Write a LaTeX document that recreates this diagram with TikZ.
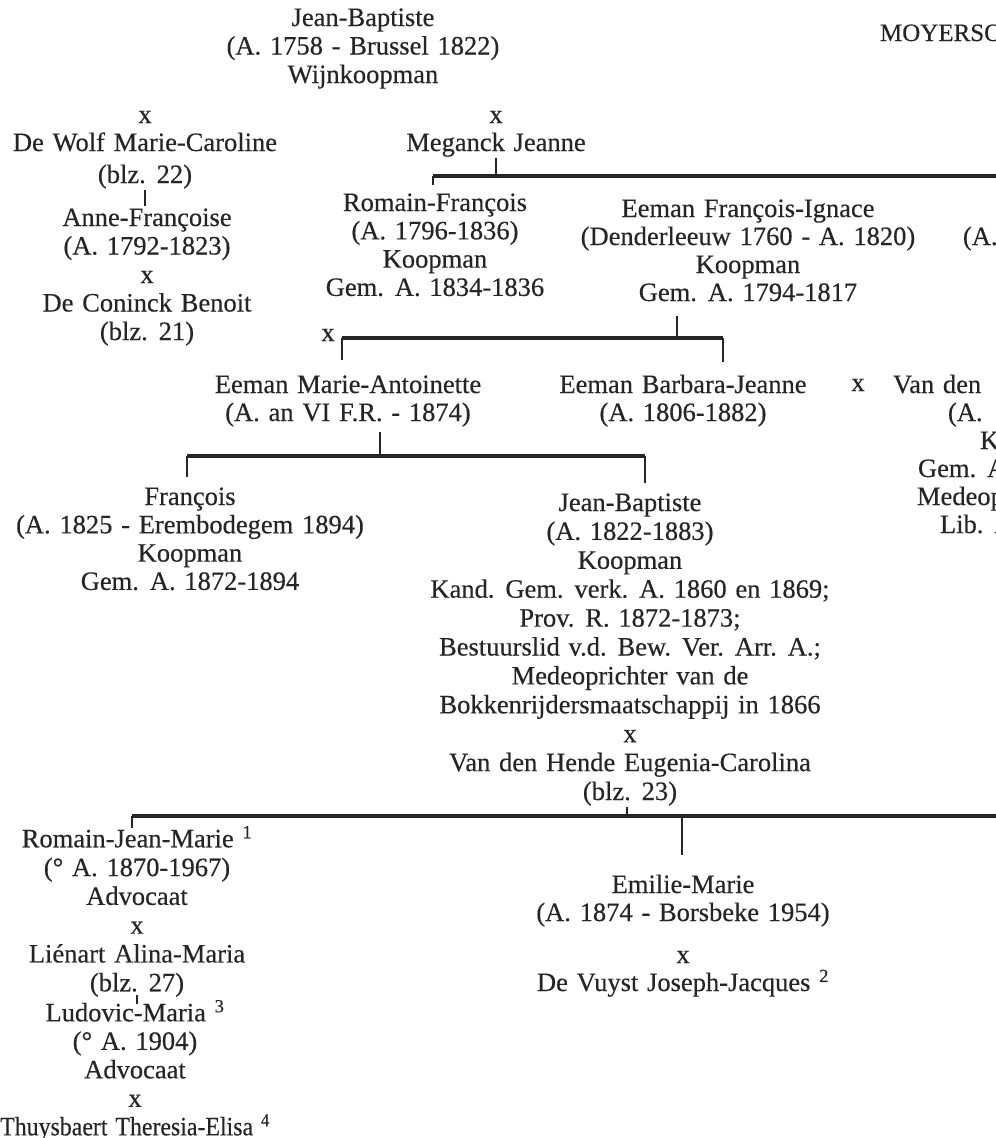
\documentclass[tikz,border=0pt]{standalone}
\usepackage{fontspec}
\usepackage{graphicx}
\setmainfont{Liberation Serif}[FakeBold=0.35]
\definecolor{ink}{HTML}{252525}
\newcommand\fs{\rule{0pt}{20pt}}
\newcommand\ls{\rule[-7pt]{0pt}{7pt}}
\newcommand\pf[1]{\fontsize{26.5}{#1}\selectfont\spaceskip=0.33em plus 0.1em minus 0.05em\relax}
\tikzset{
 person/.style={align=center, inner sep=0pt, outer sep=0pt, anchor=north, text=ink, font=\pf{28.5}},
 cut/.style={person, anchor=north west},
 bar/.style={draw=ink, line width=3.2pt},
 tick/.style={draw=ink, line width=2.2pt},
}
\begin{document}
\begin{tikzpicture}[x=1pt,y=-1pt]
\useasboundingbox (0,0) rectangle (996,1138);
\fill[white] (0,0) rectangle (996,1138);
\clip (0,0) rectangle (996,1138);

% top
\node[person] (jb) at (363,6) {\fs Jean-Baptiste\\(A. 1758 - Brussel 1822)\\Wijnkoopman\ls};
\node[cut, font=\fontsize{25}{28}\selectfont] (moy) at (880,21) {\fs MOYERSO};

% left column
\node[person] (x1) at (145,103) {\fs x};
\node[person] (dewolf) at (145,131) {\fs De Wolf Marie-Caroline\\[3.5pt](blz. 22)\ls};
\node[person] (annef) at (147,206) {\fs Anne-Françoise\\(A. 1792-1823)\\x\\De Coninck Benoit\\(blz. 21)\ls};

% Meganck branch
\node[person] (x2) at (496,103) {\fs x};
\node[person] (meganck) at (496,131) {\fs Meganck Jeanne\ls};
\node[person, font=\pf{28.3}] (romain) at (435,191) {\fs Romain-François\\(A. 1796-1836)\\Koopman\\Gem. A. 1834-1836\ls};
\node[person, font=\pf{28}] (eemanfi) at (748,197) {\fs Eeman François-Ignace\\(Denderleeuw 1760 - A. 1820)\\Koopman\\Gem. A. 1794-1817\ls};
\node[cut] (cA1) at (963,225) {\fs (A.};

% second generation
\node[person] (x3) at (328,321) {\fs x};
\node[person, font=\pf{28}] (marieant) at (348,373) {\fs Eeman Marie-Antoinette\\(A. an VI F.R. - 1874)\ls};
\node[person, font=\pf{28}] (barbara) at (683,373) {\fs Eeman Barbara-Jeanne\\(A. 1806-1882)\ls};
\node[person] (x4) at (858,371) {\fs x};
\node[cut] (vanden) at (893,373) {\fs Van den};
\node[cut] (cA2) at (948,401) {\fs (A.};
\node[cut] (cK) at (980,429) {\fs K};
\node[cut] (cGem) at (918,457) {\fs Gem. A};
\node[cut] (cMed) at (917,485) {\fs Medeop};
\node[cut] (cLib) at (940,513) {\fs Lib. A};

% third generation
\node[person, font=\pf{28.3}] (francois) at (190,485) {\fs François\\(A. 1825 - Erembodegem 1894)\\Koopman\\Gem. A. 1872-1894\ls};
\node[person, font=\pf{28.9}] (jb2) at (630,491) {\fs Jean-Baptiste\\(A. 1822-1883)\\Koopman\\Kand. Gem. verk. A. 1860 en 1869;\\Prov. R. 1872-1873;\\Bestuurslid v.d. Bew. Ver. Arr. A.;\\Medeoprichter van de\\Bokkenrijdersmaatschappij in 1866\\x\\Van den Hende Eugenia-Carolina\\(blz. 23)\ls};

% fourth generation
\node[person, font=\pf{28.8}] (romainjm) at (137,826) {\fs Romain-Jean-Marie \textsuperscript{1}\\(° A. 1870-1967)\\Advocaat\\x\\Liénart Alina-Maria\\(blz. 27)\ls};
\node[person, font=\pf{28.5}] (ludovic) at (135,1000) {\fs Ludovic-Maria \textsuperscript{3}\\(° A. 1904)\\Advocaat\\x\\\scalebox{0.9}[1]{Thuysbaert Theresia-Elisa \textsuperscript{4}}\ls};
\node[person, font=\pf{28}] (emilie) at (683,873) {\fs Emilie-Marie\\(A. 1874 - Borsbeke 1954)\\[14pt]x\\De Vuyst Joseph-Jacques \textsuperscript{2}\ls};

% connectors
\draw[tick] (dewolf.south) -- (dewolf.south |- annef.north);

\coordinate (bar1L) at (433,176);
\coordinate (bar1R) at (1000,176);
\draw[bar] (bar1L) -- (bar1R);
\draw[tick] (meganck.south) -- (meganck.south |- bar1L);
\draw[tick] (bar1L) -- ([yshift=6pt]bar1L |- romain.north);

\coordinate (bar2L) at (342,338);
\coordinate (bar2R) at (723,338);
\coordinate (bar2M) at (677,338);
\draw[bar] (bar2L) -- (bar2R);
\draw[tick] ([yshift=-8pt]eemanfi.south -| bar2M) -- (bar2M);
\draw[tick] (bar2L) -- ([yshift=13pt]bar2L |- marieant.north);
\draw[tick] (bar2R) -- ([yshift=11pt]bar2R |- barbara.north);

\coordinate (bar3L) at (187,456);
\coordinate (bar3R) at (645,456);
\coordinate (bar3M) at (380,456);
\draw[bar] (bar3L) -- (bar3R);
\draw[tick] ([yshift=-4pt]marieant.south -| bar3M) -- (bar3M);
\draw[tick] (bar3L) -- ([yshift=8pt]bar3L |- francois.north);
\draw[tick] (bar3R) -- ([yshift=8pt]bar3R |- jb2.north);

\coordinate (bar4L) at (132,816);
\coordinate (bar4R) at (1000,816);
\coordinate (bar4M) at (627,816);
\coordinate (bar4E) at (682,816);
\draw[bar] (bar4L) -- (bar4R);
\draw[tick] (jb2.south -| bar4M) -- (bar4M);
\draw[tick] (bar4L) -- ([yshift=-2pt]bar4L |- romainjm.north);
\draw[tick] (bar4E) -- ([yshift=18pt]bar4E |- emilie.north);

\draw[tick] ([yshift=3pt]romainjm.south) -- ([yshift=-4pt]romainjm.south |- ludovic.north);
\end{tikzpicture}
\end{document}
